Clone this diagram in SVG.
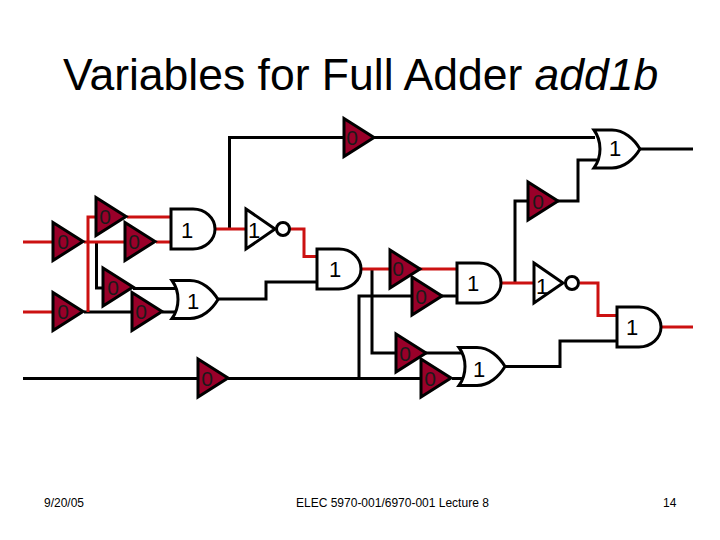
<svg xmlns="http://www.w3.org/2000/svg" width="720" height="540" viewBox="0 0 720 540">
<style>
text{font-family:"Liberation Sans",Arial,sans-serif;fill:#000}
.title{font-size:44.5px}
.foot{font-size:12px}
.val{font-size:22px;text-anchor:middle}
.zero{font-size:21px;text-anchor:middle;fill:#1a1a1a}
.buf{fill:#990029;stroke:#000;stroke-width:3;stroke-linejoin:miter}
.gate{fill:#fff;stroke:#000;stroke-width:3}
.k{fill:none;stroke:#000;stroke-width:3}
.r{fill:none;stroke:#cc1111;stroke-width:3}
</style>
<defs>
<polygon id="b" class="buf" points="0,-19 30,0 0,19"/>
<path id="and" class="gate" d="M0,-20H22A22,20 0 0 1 22,20H0Z"/>
<path id="or" class="gate" d="M-2,-19H16C28,-19 38,-10 44,0C38,10 28,19 16,19H-2C6,8 6,-8 -2,-19Z"/>
<polygon id="inv" class="gate" points="0,-20 29,0 0,20"/>
<circle id="bub" class="gate" cx="0" cy="0" r="6.5"/>
</defs>
<rect width="720" height="540" fill="#fff"/>
<text class="title" x="63" y="90">Variables for Full Adder <tspan font-style="italic">add1b</tspan></text>
<g id="connectors">
<path class="k" d="M229.500,229V137.500H344M373,137.500H595M84,312H132M162,312H177M96.500,242V288H103M133,288.500H177"/>
<path class="k" d="M217,299H266V282H317M372,269V353H396M425,353H464M442,296H457M359,378V296H412M23,378.500H198M228,378.500H421M452,378.500H465M505,366.500H560V341H617"/>
<path class="k" d="M515,283V201H528M558,201H578V160H597M639,149H693"/>
<path class="r" d="M23,242H52M23,312H52M84,242H125M156,242H171M88,312V217H96M127,217H171M216,229H246M290,229H304V256.500H317M362,269H390M420,269H457M501,283H534M580,283H598V315.500H617M661,327H693"/>
</g>
<g id="buf-a"><use href="#b" x="53" y="241.500"/><text class="zero" x="63" y="249">0</text></g>
<g id="buf-b"><use href="#b" x="53" y="311.500"/><text class="zero" x="63" y="319">0</text></g>
<g id="buf-c"><use href="#b" x="96" y="216.500"/><text class="zero" x="105" y="224">0</text></g>
<g id="buf-d"><use href="#b" x="125" y="241.500"/><text class="zero" x="134" y="249">0</text></g>
<g id="buf-e"><use href="#b" x="103" y="287"/><text class="zero" x="113" y="295">0</text></g>
<g id="buf-f"><use href="#b" x="132" y="311.500"/><text class="zero" x="141" y="319">0</text></g>
<g id="buf-g"><use href="#b" x="198" y="378"/><text class="zero" x="207" y="386">0</text></g>
<g id="buf-h"><use href="#b" x="344" y="137.500"/><text class="zero" x="352" y="145">0</text></g>
<g id="buf-i"><use href="#b" x="528" y="201"/><text class="zero" x="538" y="209">0</text></g>
<g id="buf-j"><use href="#b" x="390" y="269"/><text class="zero" x="398" y="276">0</text></g>
<g id="buf-k"><use href="#b" x="412" y="296"/><text class="zero" x="421" y="304">0</text></g>
<g id="buf-l"><use href="#b" x="396" y="353"/><text class="zero" x="405" y="361">0</text></g>
<g id="buf-m"><use href="#b" x="421" y="378"/><text class="zero" x="430" y="386">0</text></g>
<g id="and-1"><use href="#and" x="171" y="229"/><text class="val" x="187" y="238">1</text></g>
<g id="and-2"><use href="#and" x="317" y="269"/><text class="val" x="335" y="277">1</text></g>
<g id="and-3"><use href="#and" x="457" y="283"/><text class="val" x="473" y="291">1</text></g>
<g id="and-4"><use href="#and" x="617" y="327"/><text class="val" x="632" y="335">1</text></g>
<g id="or-1"><use href="#or" x="174" y="299.500"/><text class="val" x="193" y="309">1</text></g>
<g id="or-2"><use href="#or" x="461" y="366.500"/><text class="val" x="479" y="377">1</text></g>
<g id="or-3"><use href="#or" x="596" y="149"/><text class="val" x="615" y="156">1</text></g>
<g id="inv-1"><use href="#inv" x="246" y="229"/><use href="#bub" x="283" y="229"/><text class="val" x="254" y="238">1</text></g>
<g id="inv-2"><use href="#inv" x="534" y="283"/><use href="#bub" x="572" y="283"/><text class="val" x="542" y="294">1</text></g>
<text class="foot" x="44" y="507">9/20/05</text>
<text class="foot" x="296" y="507">ELEC 5970-001/6970-001 Lecture 8</text>
<text class="foot" x="663" y="507">14</text>
</svg>
